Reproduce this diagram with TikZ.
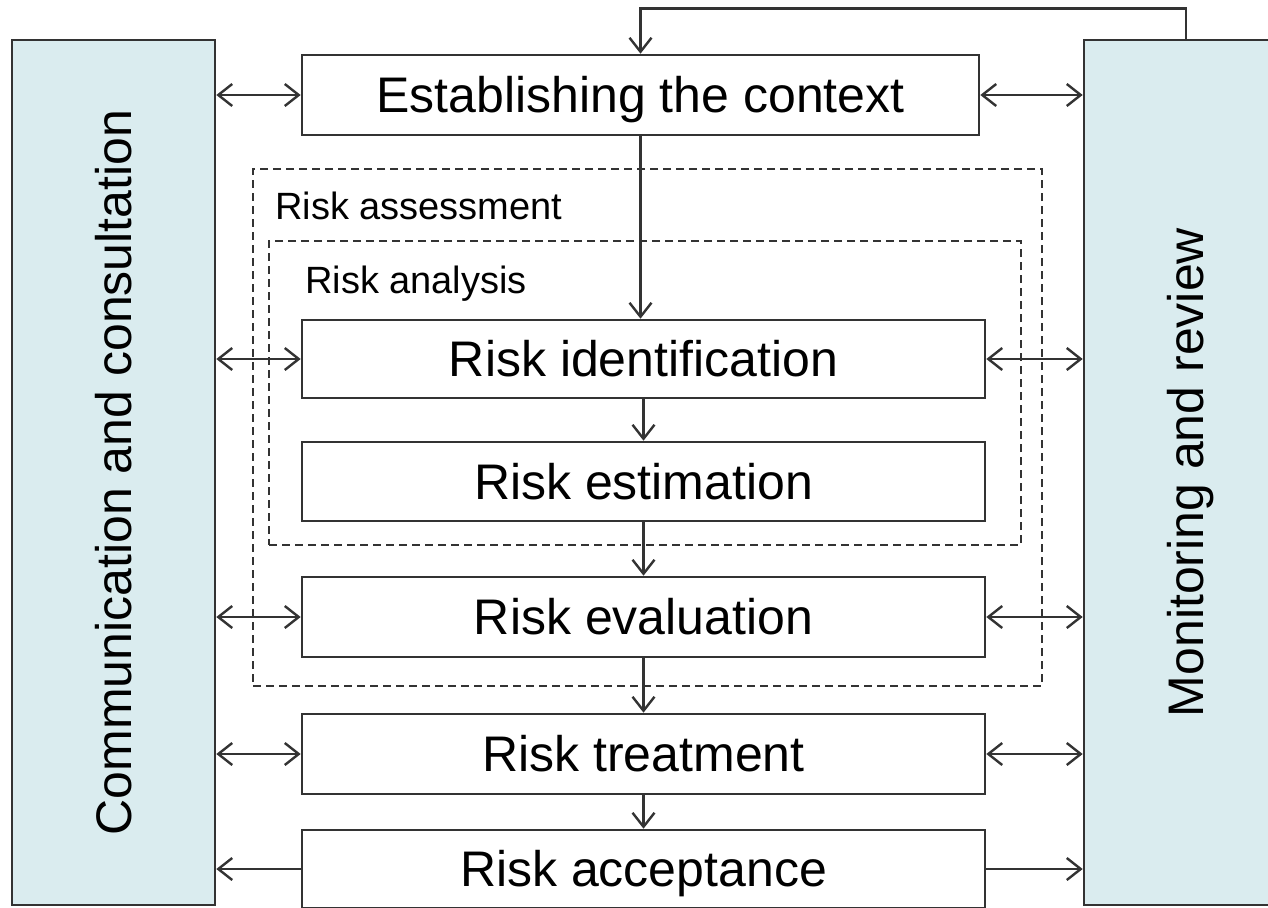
\documentclass[tikz,border=0pt]{standalone}
\usepackage{fontspec}
\setmainfont{Liberation Sans}
\usetikzlibrary{arrows.meta}
\definecolor{panelfill}{HTML}{DAECEF}
\definecolor{linecol}{HTML}{333333}
\begin{document}
\begin{tikzpicture}[x=1pt,y=-1pt,
  stepbox/.style={draw=linecol, line width=2.6pt, fill=white, minimum width=683pt, minimum height=79pt, inner sep=0pt, font=\fontsize{50}{60}\selectfont, text height=35.8pt, text depth=0pt},
  panel/.style={draw=linecol, line width=2.6pt, fill=panelfill, minimum width=203pt, minimum height=865pt, inner sep=0pt},
  sidetext/.style={rotate=90, font=\fontsize{50}{60}\selectfont, text height=35.8pt, text depth=0pt, inner sep=0pt},
  region/.style={draw=linecol, line width=2.4pt, dash pattern=on 8pt off 5pt, inner sep=0pt},
  regionlabel/.style={anchor=base west, font=\fontsize{38}{46}\selectfont, inner sep=0pt},
  conn/.style={draw=linecol, line width=2.4pt, -{Straight Barb[length=14pt,width=22pt]}},
  both/.style={draw=linecol, line width=2.4pt, {Straight Barb[length=14pt,width=22pt]}-{Straight Barb[length=14pt,width=22pt]}},
]
\useasboundingbox (0,0) rectangle (1268,907);
\clip (0,0) rectangle (1268,907);

% side panels
\node[panel] (L) at (113.5,472.5) {};
\node[panel, minimum width=204pt] (R) at (1186,472.5) {};
\node[sidetext] (Ltext) at (L.center) {Communication and consultation};
\node[sidetext] (Rtext) at (R.center) {Monitoring and review};

% dashed regions
\node[region, minimum width=789pt, minimum height=517pt] (assess) at (647.5,427.5) {};
\node[region, minimum width=752pt, minimum height=304pt] (analysis) at (645,393) {};
\node[regionlabel] (assesslabel) at (275,219) {Risk assessment};
\node[regionlabel] (analysislabel) at (305,293) {Risk analysis};

% process boxes
\node[stepbox, minimum width=677pt, minimum height=80pt] (est) at (640.5,95) {Establishing the context};
\node[stepbox, minimum height=78pt] (ident) at (643.5,359) {Risk identification};
\node[stepbox] (estim) at (643.5,481.5) {Risk estimation};
\node[stepbox, minimum height=80pt] (eval) at (643.5,617) {Risk evaluation};
\node[stepbox, minimum height=80pt] (treat) at (643.5,754) {Risk treatment};
\node[stepbox, minimum height=78pt] (accept) at (643.5,869) {Risk acceptance};

% vertical flow
\draw[conn] (est.south) -- (est.south |- ident.north);
\draw[conn] (ident.south) -- (estim.north);
\draw[conn] (estim.south) -- (eval.north);
\draw[conn] (eval.south) -- (treat.north);
\draw[conn] (treat.south) -- (accept.north);

% feedback
\draw[conn] (R.north) -- ++(0,-30) -| (est.north);

% side connections
\foreach \n in {est,ident,eval,treat}{
  \draw[both] (L.east |- \n.west) -- (\n.west);
  \draw[both] (\n.east) -- (R.west |- \n.east);
}
\draw[conn] (accept.west) -- (L.east |- accept.west);
\draw[conn] (accept.east) -- (R.west |- accept.east);
\end{tikzpicture}
\end{document}
